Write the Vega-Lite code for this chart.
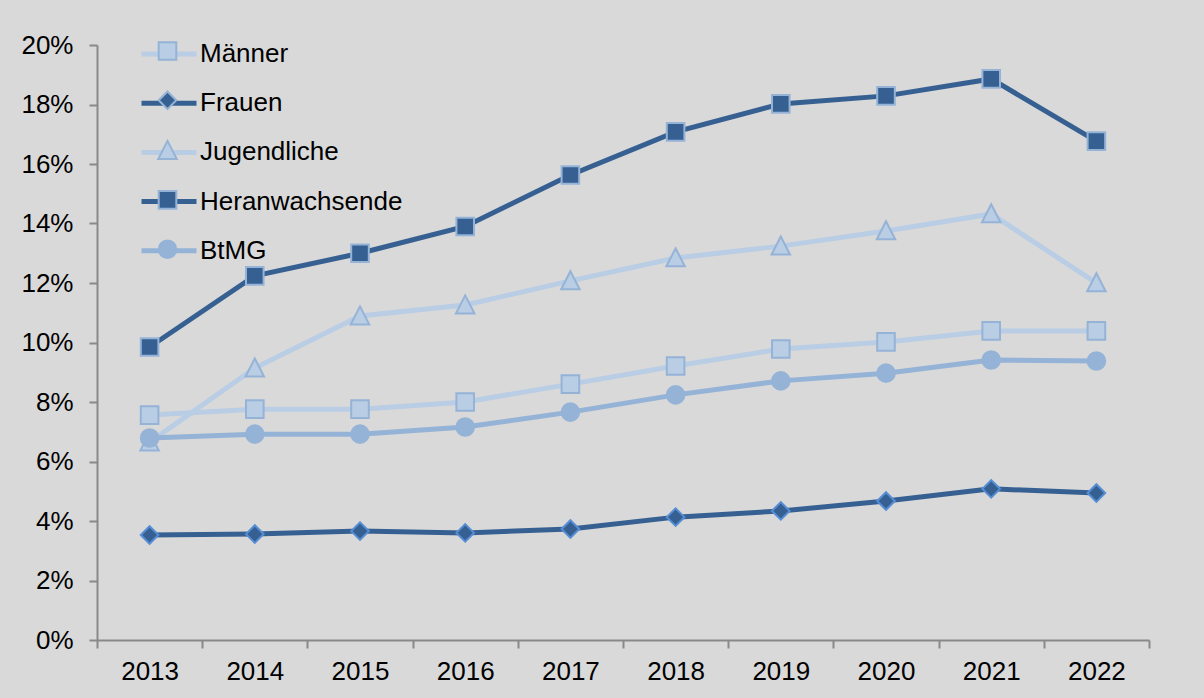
{
  "$schema": "https://vega.github.io/schema/vega-lite/v6.json",
  "autosize": {"type": "none"},
  "padding": {"left": 97, "top": 45, "right": 55, "bottom": 58},
  "width": 1052,
  "height": 595,
  "background": "#d9d9d9",
  "config": {
    "view": {"stroke": null},
    "font": "Liberation Sans",
    "axis": {"labelFont": "Liberation Sans", "labelColor": "#000000", "labelFontSize": 26, "domainColor": "#898989", "tickColor": "#898989", "domainWidth": 2, "tickWidth": 2, "tickSize": 8, "grid": false, "labelFlush": false, "labelOverlap": false, "labelBound": false},
    "legend": {"labelFont": "Liberation Sans"}
  },
  "data": {"values": [
    {"year": 2013, "s": "Männer", "v": 0.0756}, {"year": 2014, "s": "Männer", "v": 0.0776}, {"year": 2015, "s": "Männer", "v": 0.0776}, {"year": 2016, "s": "Männer", "v": 0.0800}, {"year": 2017, "s": "Männer", "v": 0.0860}, {"year": 2018, "s": "Männer", "v": 0.0921}, {"year": 2019, "s": "Männer", "v": 0.0978}, {"year": 2020, "s": "Männer", "v": 0.1002}, {"year": 2021, "s": "Männer", "v": 0.1039}, {"year": 2022, "s": "Männer", "v": 0.1039},
    {"year": 2013, "s": "Frauen", "v": 0.0353}, {"year": 2014, "s": "Frauen", "v": 0.0356}, {"year": 2015, "s": "Frauen", "v": 0.0366}, {"year": 2016, "s": "Frauen", "v": 0.0360}, {"year": 2017, "s": "Frauen", "v": 0.0373}, {"year": 2018, "s": "Frauen", "v": 0.0413}, {"year": 2019, "s": "Frauen", "v": 0.0434}, {"year": 2020, "s": "Frauen", "v": 0.0467}, {"year": 2021, "s": "Frauen", "v": 0.0508}, {"year": 2022, "s": "Frauen", "v": 0.0494},
    {"year": 2013, "s": "Jugendliche", "v": 0.0665}, {"year": 2014, "s": "Jugendliche", "v": 0.0914}, {"year": 2015, "s": "Jugendliche", "v": 0.1089}, {"year": 2016, "s": "Jugendliche", "v": 0.1126}, {"year": 2017, "s": "Jugendliche", "v": 0.1207}, {"year": 2018, "s": "Jugendliche", "v": 0.1284}, {"year": 2019, "s": "Jugendliche", "v": 0.1324}, {"year": 2020, "s": "Jugendliche", "v": 0.1375}, {"year": 2021, "s": "Jugendliche", "v": 0.1432}, {"year": 2022, "s": "Jugendliche", "v": 0.1200},
    {"year": 2013, "s": "Heranwachsende", "v": 0.0985}, {"year": 2014, "s": "Heranwachsende", "v": 0.1224}, {"year": 2015, "s": "Heranwachsende", "v": 0.1300}, {"year": 2016, "s": "Heranwachsende", "v": 0.1390}, {"year": 2017, "s": "Heranwachsende", "v": 0.1563}, {"year": 2018, "s": "Heranwachsende", "v": 0.1708}, {"year": 2019, "s": "Heranwachsende", "v": 0.1802}, {"year": 2020, "s": "Heranwachsende", "v": 0.1829}, {"year": 2021, "s": "Heranwachsende", "v": 0.1886}, {"year": 2022, "s": "Heranwachsende", "v": 0.1677},
    {"year": 2013, "s": "BtMG", "v": 0.0679}, {"year": 2014, "s": "BtMG", "v": 0.0692}, {"year": 2015, "s": "BtMG", "v": 0.0692}, {"year": 2016, "s": "BtMG", "v": 0.0716}, {"year": 2017, "s": "BtMG", "v": 0.0766}, {"year": 2018, "s": "BtMG", "v": 0.0824}, {"year": 2019, "s": "BtMG", "v": 0.0871}, {"year": 2020, "s": "BtMG", "v": 0.0897}, {"year": 2021, "s": "BtMG", "v": 0.0941}, {"year": 2022, "s": "BtMG", "v": 0.0938}
  ]},
  "encoding": {
    "x": {"field": "year", "type": "quantitative", "scale": {"domain": [2012.5, 2022.5], "nice": false, "zero": false},
      "axis": {"title": null, "values": [2012.5, 2013.5, 2014.5, 2015.5, 2016.5, 2017.5, 2018.5, 2019.5, 2020.5, 2021.5, 2022.5], "labelExpr": "datum.value < 2022 ? format(datum.value + 0.5, 'd') : ''", "labelOffset": 52.6, "labelPadding": 10}},
    "y": {"field": "v", "type": "quantitative", "scale": {"domain": [0, 0.2], "nice": false},
      "axis": {"title": null, "values": [0, 0.02, 0.04, 0.06, 0.08, 0.1, 0.12, 0.14, 0.16, 0.18, 0.2], "format": ".0%", "labelPadding": 16}}
  },
  "layer": [
    {
      "mark": {"type": "line", "strokeWidth": 5},
      "encoding": {
        "stroke": {"field": "s", "type": "nominal", "sort": ["Männer", "Frauen", "Jugendliche", "Heranwachsende", "BtMG"],
          "scale": {"range": ["#b9cde5", "#376092", "#b9cde5", "#376092", "#95b3d7"]},
          "legend": {"title": null, "orient": "none", "legendX": 42, "legendY": -21, "symbolType": "stroke", "symbolSize": 3025, "symbolStrokeWidth": 5, "labelFontSize": 26, "labelColor": "#000000", "labelOffset": 1, "labelLimit": 400, "rowPadding": 6.2, "padding": 0, "zindex": 1}}
      }
    },
    {
      "mark": {"type": "point", "filled": true, "size": 310, "strokeWidth": 2, "opacity": 1},
      "encoding": {
        "fill": {"field": "s", "type": "nominal",
          "scale": {"domain": ["Männer", "Frauen", "Jugendliche", "Heranwachsende", "BtMG"], "range": ["#b9cde5", "#376092", "#b9cde5", "#376092", "#95b3d7"]},
          "legend": {"title": null, "orient": "none", "legendX": 60.5, "legendY": -4, "symbolSize": 310, "symbolStrokeWidth": 2, "labelExpr": "''", "labelFontSize": 1, "labelOffset": 0, "rowPadding": 23.3, "padding": 0, "zindex": 2, "symbolOpacity": 1,
            "encode": {"symbols": {"update": {"stroke": {"signal": "datum.value === 'Frauen' ? '#558ed5' : '#95b3d7'"}}}}}},
        "shape": {"field": "s", "type": "nominal",
          "scale": {"domain": ["Männer", "Frauen", "Jugendliche", "Heranwachsende", "BtMG"], "range": ["square", "diamond", "M0,-1.1L1.05,0.95L-1.05,0.95Z", "square", "circle"]},
          "legend": {"title": null, "orient": "none", "legendX": 60.5, "legendY": -4, "symbolSize": 310, "symbolStrokeWidth": 2, "labelExpr": "''", "labelFontSize": 1, "labelOffset": 0, "rowPadding": 23.3, "padding": 0, "zindex": 2, "symbolOpacity": 1,
            "encode": {"symbols": {"update": {"stroke": {"signal": "datum.value === 'Frauen' ? '#558ed5' : '#95b3d7'"}}}}}},
        "stroke": {"condition": {"test": "datum.s === 'Frauen'", "value": "#558ed5"}, "value": "#95b3d7"}
      }
    }
  ]
}
